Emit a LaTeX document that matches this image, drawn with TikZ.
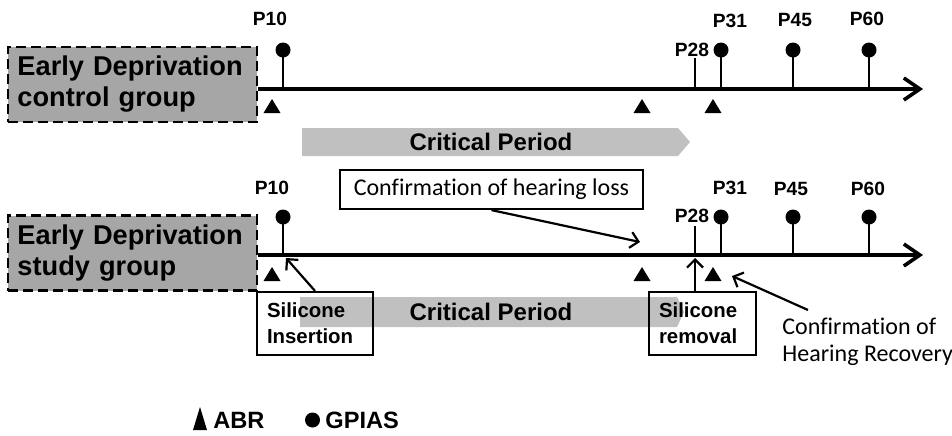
\documentclass[tikz,border=0pt]{standalone}
\usepackage{fontspec}
\setmainfont{Liberation Sans}
\newfontfamily\calib[Ligatures=NoCommon]{Carlito}
\usetikzlibrary{arrows.meta}
\definecolor{boxgray}{HTML}{A6A6A6}
\definecolor{bandgray}{HTML}{C0C0C0}
\tikzset{
  grp/.style={draw, dash pattern=on 5pt off 2.5pt, line width=1.1pt, fill=boxgray,
    minimum width=124.5pt, minimum height=37.5pt, inner sep=0pt, text width=115pt,
    align=left, font=\bfseries\fontsize{13.6}{15.5}\selectfont},
  timeline/.style={line width=1.8pt, -{Straight Barb[length=8pt,width=11pt]}},
  stick/.style={line width=1.1pt},
  gdot/.style={circle, fill, inner sep=0pt, minimum size=7.5pt},
  plabel/.style={inner sep=0pt, font=\bfseries\fontsize{9.6}{10}\selectfont},
  cptext/.style={inner sep=0pt, font=\bfseries\fontsize{12}{13}\selectfont},
  sbox/.style={draw, line width=1.1pt, minimum height=31.5pt, inner xsep=5pt,
    align=left, font=\bfseries\fontsize{10.2}{13}\selectfont},
  note/.style={draw, line width=1.1pt, minimum width=151.5pt, minimum height=19.5pt,
    inner sep=0pt, font=\calib\fontsize{12}{13.5}\selectfont},
  calnote/.style={inner sep=0pt, align=left, font=\calib\fontsize{12}{13.5}\selectfont},
  pointer/.style={line width=1.1pt, -{Straight Barb[length=4pt,width=8pt]}},
  legend/.style={inner sep=0pt, font=\bfseries\fontsize{11.8}{13}\selectfont}
}
\begin{document}
\begin{tikzpicture}[x=0.5pt,y=-0.5pt]
\useasboundingbox (0,0) rectangle (952,435);
% critical period bands
\fill[bandgray] (302,128) -- (678,128) -- (690,142) -- (678,156) -- (302,156) -- cycle;
\node[cptext] (cp1) at (491,142) {Critical Period};
\fill[bandgray] (300,297) -- (677,297) -- (684,312) -- (677,327) -- (300,327) -- cycle;
\node[cptext] (cp2) at (491,312) {Critical Period};
% control group
\node[grp] (ctrl) at (132.5,84.5) {Early Deprivation\\control group};
\coordinate (tip1) at (923,89);
\draw[timeline] (tip1 -| ctrl.east) -- (tip1);
\foreach \x/\d in {283/10,721/31,793/45,869/60} {
  \node[gdot] (a\d) at (\x,50) {};
  \draw[stick] (a\d.center) -- (a\d |- tip1);
}
\coordinate (a28) at (695,58);
\draw[stick] (a28) -- (a28 |- tip1);
\node[plabel] (la10) at (270,19) {P10};
\node[plabel] (la28) at (692,50) {P28};
\node[plabel] (la31) at (730,21) {P31};
\node[plabel] (la45) at (795,20) {P45};
\node[plabel] (la60) at (867,19) {P60};
\foreach \x in {272,642,713}
  \fill (\x,99) -- ++(8.5,14) -- ++(-17,0) -- cycle;
% study group
\node[grp] (study) at (132.5,253) {Early Deprivation\\study group};
\coordinate (tip2) at (923,255);
\draw[timeline] (tip2 -| study.east) -- (tip2);
\foreach \x/\d in {283/10,721/31,793/45,869/60} {
  \node[gdot] (b\d) at (\x,217) {};
  \draw[stick] (b\d.center) -- (b\d |- tip2);
}
\coordinate (b28) at (695,226);
\draw[stick] (b28) -- (b28 |- tip2);
\node[plabel] (lb10) at (272,188) {P10};
\node[plabel] (lb28) at (692,216) {P28};
\node[plabel] (lb31) at (730,188) {P31};
\node[plabel] (lb45) at (791,189) {P45};
\node[plabel] (lb60) at (868,189) {P60};
\foreach \x in {272,642,713}
  \fill (\x,267) -- ++(8.5,14) -- ++(-17,0) -- cycle;
% notes
\node[note] (loss) at (491.5,189.5) {Confirmation of hearing loss};
\node[sbox, text width=48pt] (ins) at (315,323.5) {Silicone\\Insertion};
\node[sbox, text width=43.5pt] (rem) at (702.5,323.5) {Silicone\\removal};
\node[calnote, anchor=north west] (recov) at (782,318) {Confirmation of\\Hearing Recovery};
\coordinate (hl) at (640,242);
\coordinate (e10) at (286,258);
\coordinate (r28) at (695,258);
\coordinate (hr) at (732,276);
\draw[pointer] (loss.south) -- (hl);
\draw[pointer] (ins.north) -- (e10);
\draw[pointer] (rem.north -| r28) -- (r28);
\draw[pointer] ([shift={(13pt,4pt)}]recov.north west) -- (hr);
% legend
\fill (200,407) -- ++(7,23) -- ++(-14,0) -- cycle;
\node[legend, anchor=west] (abr) at (213,420) {ABR};
\node[gdot] (gp) at (312.5,420) {};
\node[legend, anchor=west] (gpias) at (325,420) {GPIAS};
\end{tikzpicture}
\end{document}
